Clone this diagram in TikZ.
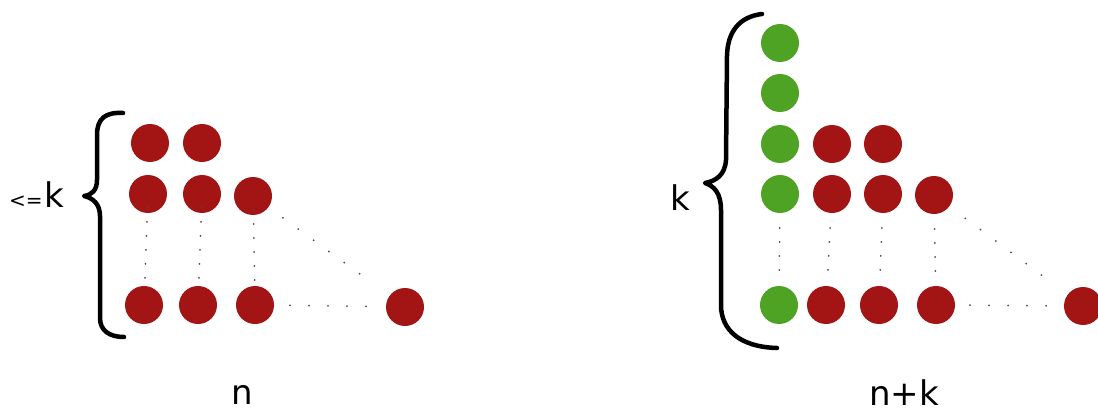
\documentclass[tikz,border=0pt]{standalone}
\usepackage{fontspec}
\setmainfont{DejaVu Sans}
\definecolor{dotred}{RGB}{163,20,20}
\definecolor{dotgreen}{RGB}{78,162,36}
\begin{document}
\begin{tikzpicture}[x=1pt,y=-1pt,
  rdot/.style={circle,fill=dotred,minimum size=38pt,inner sep=0pt},
  gdot/.style={circle,fill=dotgreen,minimum size=38pt,inner sep=0pt},
  vdots/.style={line width=2pt,line cap=round,draw=black!70,dash pattern=on 0pt off 14pt},
  ddots/.style={line width=2pt,line cap=round,draw=black!70,dash pattern=on 0pt off 19pt},
  brace/.style={line width=4.5pt,line cap=round,line join=round},
  lbl/.style={inner sep=0pt,anchor=base,font=\fontsize{34}{34}\selectfont}]
\clip (0,0) rectangle (1098,412);
\fill[white] (0,0) rectangle (1098,412);
% ---------- left figure ----------
\node[rdot] (a11) at (150,143) {};
\node[rdot] (a12) at (202,143) {};
\node[rdot] (a21) at (148,194) {};
\node[rdot] (a22) at (202,194) {};
\node[rdot] (a23) at (253,196) {};
\node[rdot] (a31) at (144,305) {};
\node[rdot] (a32) at (198,305) {};
\node[rdot] (a33) at (255,305) {};
\node[rdot] (a34) at (405,307) {};
\draw[vdots,shorten >=16pt,shorten <=14pt] (a21.center) -- (a31.center);
\draw[vdots,shorten >=16pt,shorten <=14pt] (a22.center) -- (a32.center);
\draw[vdots,shorten >=16pt,shorten <=14pt] (a23.center) -- (a33.center);
\draw[ddots,shorten >=40pt,shorten <=37pt] (a23.center) -- (a34.center);
\draw[ddots,shorten >=35pt,shorten <=35pt] (a33.center) -- (a34.center);
\draw[brace] (123,113) .. controls (106,112) and (97,118) .. (97,135)
  -- (97,180) .. controls (97,190) and (92,195) .. (84,196)
  .. controls (93,198) and (100,204) .. (100,216)
  -- (100,318) .. controls (100,331) and (110,337) .. (124,337);
\node[lbl,anchor=base west] (lk) at (9,207) {{\fontsize{20}{20}\selectfont<=}\hspace{2pt}k};
\node[lbl] (ln) at (242,404) {n};
% ---------- right figure ----------
\node[gdot] (b11) at (780,43) {};
\node[gdot] (b21) at (780,93) {};
\node[gdot] (b31) at (780,144) {};
\node[rdot] (b32) at (832,144) {};
\node[rdot] (b33) at (883,144) {};
\node[gdot] (b41) at (780,194) {};
\node[rdot] (b42) at (832,194) {};
\node[rdot] (b43) at (883,194) {};
\node[rdot] (b44) at (934,195) {};
\node[gdot] (b51) at (779,305) {};
\node[rdot] (b52) at (826,305) {};
\node[rdot] (b53) at (879,305) {};
\node[rdot] (b54) at (936,305) {};
\node[rdot] (b55) at (1083,306) {};
\draw[vdots,shorten >=33pt,shorten <=34pt] (b41.center) -- (b51.center);
\draw[vdots,shorten >=33pt,shorten <=34pt] (b42.center) -- (b52.center);
\draw[vdots,shorten >=33pt,shorten <=34pt] (b43.center) -- (b53.center);
\draw[vdots,shorten >=33pt,shorten <=34pt] (b44.center) -- (b54.center);
\draw[ddots,shorten >=35pt,shorten <=39pt] (b44.center) -- (b55.center);
\draw[ddots,shorten >=31pt,shorten <=34pt] (b54.center) -- (b55.center);
\draw[brace] (762,14) .. controls (745,16) and (728,26) .. (727,55)
  -- (726,160) .. controls (725,175) and (716,181) .. (705,183)
  .. controls (714,186) and (721,193) .. (721,210)
  -- (721,305) .. controls (721,330) and (740,347) .. (777,348);
\node[lbl,anchor=base west] (rk) at (670,210) {k};
\node[lbl] (rn) at (904,405) {n+k};
\end{tikzpicture}
\end{document}
